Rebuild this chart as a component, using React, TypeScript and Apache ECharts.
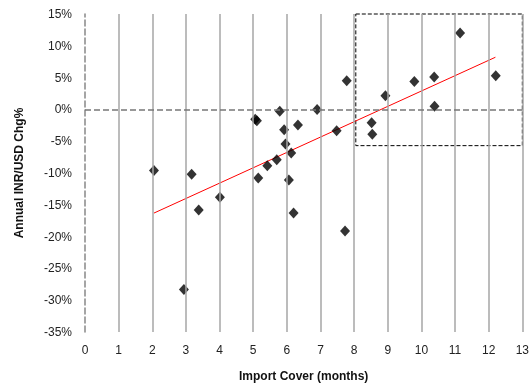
import React, { useEffect, useRef } from "react";
import * as echarts from "echarts";

const importCover = [2.05, 3.17, 5.06, 5.11, 5.15, 5.42, 4.01, 3.38, 2.94, 5.79, 5.92, 6.33, 6.9, 7.78, 7.48, 5.96, 6.13, 5.7, 6.06, 8.52, 8.54, 8.93, 9.79, 10.38, 10.39, 11.15, 12.21, 6.2, 7.73];
const inrUsdChg = [-9.6, -10.2, -1.55, -1.8, -10.8, -8.85, -13.8, -15.8, -28.3, -0.3, -3.2, -2.45, 0.0, 4.5, -3.35, -5.45, -6.85, -7.9, -11.1, -2.1, -3.9, 2.15, 4.4, 5.1, 0.5, 12.0, 5.3, -16.3, -19.1];
const trendX = [2.05, 12.2];
const trendY = [-16.3, 8.2];
const xGridTicks = [1, 2, 3, 4, 5, 6, 7, 8, 9, 10, 11, 12, 13];
const boxX = [8.05, 13];
const boxY = [15, -5.7];

const FONT = "Liberation Sans";

export default function App() {
  const ref = useRef<HTMLDivElement>(null);
  useEffect(() => {
    if (!ref.current) return;
    const chart = echarts.init(ref.current, null, { renderer: "svg" });
    const points = importCover.map((x, i) => [x, inrUsdChg[i]]);
    const trend = trendX.map((x, i) => [x, trendY[i]]);
    chart.setOption({
      animation: false,
      grid: { left: 85, right: 8, top: 14, bottom: 55 },
      xAxis: {
        type: "value",
        min: 0,
        max: 13,
        interval: 1,
        name: "Import Cover (months)",
        nameLocation: "middle",
        nameGap: 38,
        nameTextStyle: { fontFamily: FONT, fontSize: 12, fontWeight: "bold", color: "#111" },
        axisLine: { show: false },
        axisTick: { show: false },
        splitLine: { show: false },
        axisLabel: { fontFamily: FONT, fontSize: 12, color: "#222", margin: 12 },
      },
      yAxis: {
        type: "value",
        min: -35,
        max: 15,
        interval: 5,
        name: "Annual INR/USD Chg%",
        nameLocation: "middle",
        nameGap: 60,
        nameTextStyle: { fontFamily: FONT, fontSize: 12, fontWeight: "bold", color: "#111" },
        axisLine: { show: true, lineStyle: { color: "#888", type: "dashed", width: 1.5 } },
        axisTick: { show: false },
        splitLine: { show: false },
        axisLabel: { fontFamily: FONT, fontSize: 12, color: "#222", margin: 13, formatter: (v: number) => `${v}%` },
      },
      series: [
        {
          type: "line",
          data: [],
          silent: true,
          markLine: {
            silent: true,
            symbol: "none",
            label: { show: false },
            lineStyle: { color: "#a6a6a6", type: "solid", width: 1.5 },
            data: xGridTicks.map((v) => ({ xAxis: v })),
          },
        },
        {
          type: "line",
          data: [],
          silent: true,
          markLine: {
            silent: true,
            symbol: "none",
            label: { show: false },
            lineStyle: { color: "#777", type: "dashed", width: 1.5 },
            data: [{ yAxis: 0 }],
          },
          markArea: {
            silent: true,
            itemStyle: { color: "rgba(0,0,0,0)", borderColor: "#000", borderWidth: 1, borderType: "dashed" },
            data: [[{ coord: [boxX[0], boxY[0]] }, { coord: [boxX[1], boxY[1]] }]],
          },
        },
        {
          type: "line",
          data: trend,
          symbol: "none",
          lineStyle: { color: "#ff0000", width: 1 },
          z: 3,
        },
        {
          type: "scatter",
          data: points,
          symbol: "diamond",
          symbolSize: [10, 11],
          itemStyle: { color: "#000" },
          z: 4,
        },
      ],
    });
    return () => chart.dispose();
  }, []);
  return <div ref={ref} style={{ position: "fixed", left: 0, top: 0, width: 532, height: 387 }} />;
}
